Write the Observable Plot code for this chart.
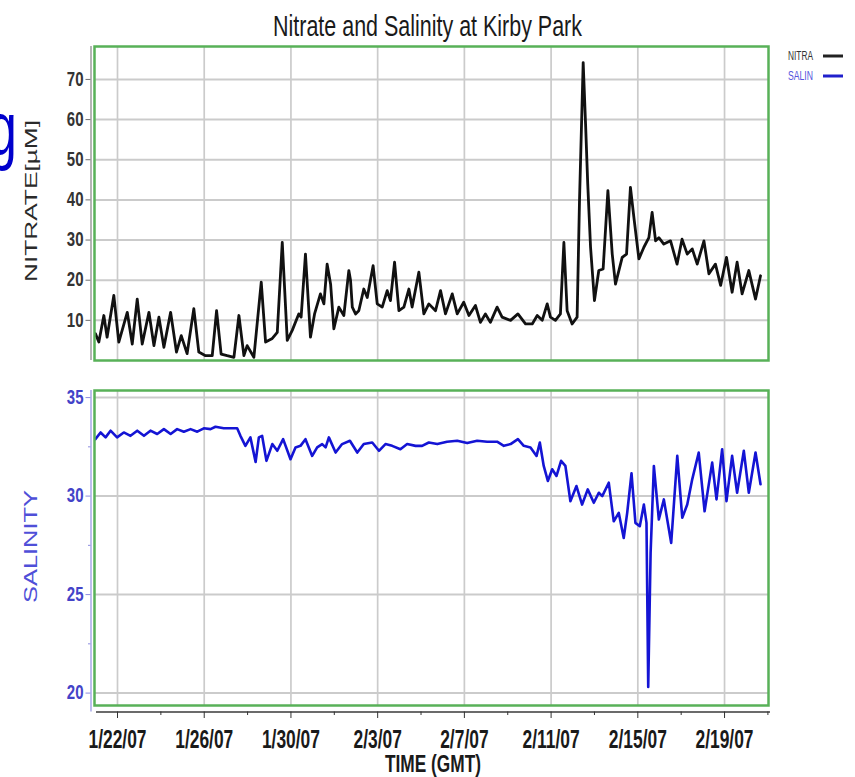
<!DOCTYPE html>
<html>
<head>
<meta charset="utf-8">
<script src="https://cdn.jsdelivr.net/npm/d3@7"></script>
<script src="https://cdn.jsdelivr.net/npm/@observablehq/plot@0.6"></script>
<style>
  html, body { margin: 0; padding: 0; background: #fff; }
  #wrap { position: relative; width: 855px; height: 777px; overflow: hidden; background: #fff;
          font-family: "Liberation Sans", Arial, sans-serif; }
  #wrap > svg { position: absolute; overflow: visible; }
</style>
</head>
<body>
<div id="wrap"></div>
<script>
// ---- DATA --------------------------------------------------------------
// Time is given as fractional day of January 2007 (GMT): 22.0 = 1/22/07 00:00, 32.5 = 2/1/07 12:00
const nitrateDay = [20.98,21.14,21.37,21.52,21.83,22.06,22.45,22.68,22.91,23.14,
  23.45,23.68,23.91,24.14,24.45,24.72,24.94,25.21,25.52,25.75,
  26.06,26.37,26.57,26.78,27.06,27.37,27.6,27.83,27.98,28.29,
  28.63,28.83,29.14,29.37,29.6,29.83,30.06,30.36,30.47,30.67,
  30.9,31.09,31.36,31.52,31.67,31.83,31.98,32.21,32.44,32.67,
  32.75,32.83,32.98,33.13,33.36,33.52,33.79,33.98,34.21,34.44,
  34.59,34.78,34.98,35.21,35.44,35.59,35.9,36.13,36.36,
  36.67,36.9,37.13,37.44,37.67,37.97,38.21,38.51,38.74,38.97,
  39.2,39.51,39.74,40.13,40.47,40.82,41.13,41.36,41.59,41.82,
  41.97,42.2,42.43,42.59,42.74,42.97,43.2,43.31,43.48,43.59,
  43.69,43.82,44.0,44.2,44.4,44.62,44.82,44.97,45.28,45.48,
  45.66,45.82,46.05,46.28,46.51,46.66,46.82,46.97,47.2,47.51,
  47.81,48.04,48.28,48.51,48.74,49.05,49.28,49.58,49.82,50.09,
  50.35,50.58,50.81,51.12,51.43,51.66];
const nitrateValue = [6.7,4.6,11.2,5.8,16.2,4.6,12,4.1,15.3,4.1,
  12,3.7,10.8,3.3,12,2.1,6.2,1.7,12.9,2.1,
  1.2,1.2,12.4,1.6,1.2,0.8,11.2,1.2,3.7,0.8,
  19.5,4.6,5.5,7.0,29.4,5.0,7.5,11.6,10.8,26.5,
  5.8,11.6,16.6,14.1,24,19,7.9,13.3,11.2,22.4,
  19.9,13.3,11.6,12.4,17.8,15.7,23.6,14.1,13.3,17.4,
  14.9,24.5,12.4,13.3,17.8,13.3,22,11.6,14.1,
  12.4,17.4,11.6,16.6,11.6,14.5,11.2,13.7,9.5,11.6,
  9.5,13.3,10.8,10,11.6,9.1,9.1,11.2,10,14.1,
  10.8,10,11.6,29.4,12.4,9.1,10.8,39.8,74.2,58.9,
  44,28.2,14.9,22.4,22.8,42.3,26.5,19,25.7,26.5,
  43.1,35.6,25.3,28.2,30.6,36.9,29.8,30.6,29,29.8,
  24,30.2,26.5,27.8,24,29.8,21.6,24,18.7,25.7,
  17,24.5,16.6,22.4,15.3,21.1];

const salinityDay = [20.98,21.22,21.45,21.68,21.98,22.29,22.6,22.91,23.22,23.52,
  23.83,24.14,24.45,24.75,25.06,25.37,25.68,25.98,26.29,26.52,
  26.9,27.52,27.67,27.9,28.13,28.37,28.52,28.67,28.87,29.14,
  29.37,29.64,29.98,30.21,30.44,30.67,30.98,31.21,31.44,31.6,
  31.75,32.06,32.36,32.72,33.06,33.36,33.75,34.06,34.36,34.67,
  35.05,35.36,35.75,36.05,36.36,
  36.75,37.2,37.67,38.13,38.59,39.05,39.51,39.82,40.13,40.47,
  40.74,41.05,41.33,41.48,41.66,41.85,42.05,42.25,42.46,42.66,
  42.89,43.17,43.43,43.69,43.97,44.2,44.36,44.66,44.89,45.12,
  45.35,45.51,45.71,45.89,46.09,46.28,46.4,46.48,46.59,46.74,
  46.97,47.2,47.54,47.82,48.05,48.28,48.51,48.81,49.08,49.43,
  49.63,49.89,50.09,50.35,50.58,50.89,51.12,51.43,51.66];
const salinityValue = [32.89,33.23,32.98,33.32,32.98,33.23,33.06,33.32,33.06,33.32,
  33.15,33.4,33.15,33.4,33.27,33.4,33.27,33.44,33.4,33.52,
  33.44,33.44,33.06,32.55,32.98,31.73,32.98,33.06,31.79,32.64,
  32.3,32.89,31.87,32.47,32.55,32.89,32.04,32.47,32.64,32.47,
  32.98,32.21,32.64,32.81,32.21,32.64,32.72,32.3,32.64,32.55,
  32.38,32.64,32.55,32.55,32.72,
  32.64,32.76,32.81,32.69,32.81,32.76,32.76,32.55,32.64,32.89,
  32.55,32.47,32.04,32.72,31.53,30.77,31.36,31.02,31.79,31.53,
  29.74,30.51,29.57,30.34,29.66,30.17,30.0,30.68,28.72,29.15,
  27.87,29.15,31.16,28.64,28.47,29.57,28.64,20.31,27.11,31.53,
  28.81,29.83,27.62,32.04,28.9,29.57,30.85,32.21,29.23,31.7,
  29.83,32.38,29.74,32.04,30.17,32.3,30.17,32.21,30.6];

const dateTicks = ["2007-01-22","2007-01-26","2007-01-30","2007-02-03","2007-02-07","2007-02-11","2007-02-15","2007-02-19"];
const dateTickLabels = ["1/22/07","1/26/07","1/30/07","2/3/07","2/7/07","2/11/07","2/15/07","2/19/07"];
const dateMinorTicks = ["2007-01-24","2007-01-28","2007-02-01","2007-02-05","2007-02-09","2007-02-13","2007-02-17","2007-02-21"];
const nitrateTicks = [10, 20, 30, 40, 50, 60, 70];
const salinityTicks = [20, 25, 30, 35];
const salinityMinorTicks = [22.5, 27.5, 32.5];
const seriesNames = ["NITRA", "SALIN"];

// ---- BUILD ---------------------------------------------------------------
const DAY = 86400000;
const T0 = Date.UTC(2007, 0, 0);
const toDate = d => new Date(T0 + d * DAY);
const nitrate = nitrateDay.map((d, i) => ({date: toDate(d), value: nitrateValue[i]}));
const salinity = salinityDay.map((d, i) => ({date: toDate(d), value: salinityValue[i]}));
const majors = dateTicks.map(s => new Date(s + "T00:00:00Z"));
const minors = dateMinorTicks.map(s => new Date(s + "T00:00:00Z"));
const labelOf = new Map(majors.map((d, i) => [+d, dateTickLabels[i]]));
const xDomain = [toDate(20.939), toDate(52.028)];

const GREEN = "#58b158";
const GRID = "#cbcbcb";
const FONT = "'Liberation Sans', Arial, sans-serif";

function color(svg, label, attrs) {
  svg.querySelectorAll(`g[aria-label="${label}"], g[aria-label="${label}"] *`).forEach(el => {
    for (const k in attrs) el.setAttribute(k, attrs[k]);
  });
}
// tall, narrow labels (the reference image is stretched vertically):
// measure at the nominal size, then draw larger and squeeze back to that width
function tallLabels(svg, label, attrs, size, sy) {
  svg.querySelectorAll(`g[aria-label="${label}"] text`).forEach(t => {
    for (const k in attrs) t.setAttribute(k, attrs[k]);
    t.setAttribute("font-size", size);
    const L = t.getComputedTextLength();
    if (!(L > 0)) return;
    t.setAttribute("font-size", size * sy);
    t.setAttribute("textLength", L);
    t.setAttribute("lengthAdjust", "spacingAndGlyphs");
  });
}

const topPlot = Plot.plot({
  width: 780, height: 365,
  marginLeft: 90.5, marginRight: 12, marginTop: 46, marginBottom: 5,
  style: {background: "transparent", overflow: "visible", fontFamily: FONT},
  x: {type: "utc", domain: xDomain, insetLeft: 3.5, axis: null},
  y: {domain: [0, 78.2]},
  marks: [
    Plot.ruleY(nitrateTicks, {stroke: GRID, strokeWidth: 2, insetLeft: 3.5}),
    Plot.ruleX(majors, {stroke: GRID, strokeWidth: 1.7}),
    Plot.line(nitrate, {x: "date", y: "value", stroke: "#111", strokeWidth: 2.8}),
    Plot.frame({stroke: GREEN, strokeWidth: 2.5, insetLeft: 3.5}),
    Plot.ruleX([xDomain[0]], {stroke: "#9c9c9c", strokeWidth: 1.5, dx: -3.5}),
    Plot.axisY({ticks: nitrateTicks, tickSize: 5, tickPadding: 2.5, label: null,
      stroke: "#707070", fill: "#333", fontSize: 15, fontWeight: "bold"})
  ]
});
topPlot.style.left = "0px"; topPlot.style.top = "0px";

const bottomPlot = Plot.plot({
  width: 780, height: 372,
  marginLeft: 90.5, marginRight: 12, marginTop: 10, marginBottom: 40.5,
  style: {background: "transparent", overflow: "visible", fontFamily: FONT},
  x: {type: "utc", domain: xDomain, insetLeft: 3.5},
  y: {domain: [19.37, 35.36], insetBottom: 6.5},
  marks: [
    Plot.ruleY(salinityTicks, {stroke: GRID, strokeWidth: 2, insetLeft: 3.5}),
    Plot.ruleX(majors, {stroke: GRID, strokeWidth: 1.7, insetBottom: 6.5}),
    Plot.line(salinity, {x: "date", y: "value", stroke: "#1414d4", strokeWidth: 2.6}),
    Plot.frame({stroke: GREEN, strokeWidth: 2.5, insetLeft: 3.5, insetBottom: 6.5}),
    Plot.ruleX([xDomain[0]], {stroke: "#a8a8e8", strokeWidth: 1.5, dx: -3.5}),
    Plot.axisY({ticks: salinityTicks, tickSize: 5, tickPadding: 2.5, label: null,
      stroke: "#8c8ce0", fill: "#4343c8", fontSize: 15, fontWeight: "bold"}),
    Plot.axisY({ticks: salinityMinorTicks, tickSize: 2.5, tickFormat: () => "", label: null, stroke: "#8c8ce0"}),
    Plot.ruleY([19.37], {stroke: "#3a3a3a", strokeWidth: 1.5, dy: 6.5, insetLeft: 5.5, insetRight: -2}),
    Plot.axisX({ticks: majors, tickSize: 6.5, tickPadding: 10.5, label: null,
      tickFormat: d => labelOf.get(+d), stroke: "#333", fill: "#1a1a1a", fontSize: 17.4, fontWeight: "bold"}),
    Plot.axisX({ticks: minors, tickSize: 3.5, tickFormat: () => "", label: null, stroke: "#333"})
  ]
});
bottomPlot.style.left = "0px"; bottomPlot.style.top = "380px";

const wrap = document.getElementById("wrap");
wrap.appendChild(topPlot);
wrap.appendChild(bottomPlot);

color(topPlot, "y-axis tick", {stroke: "#707070"});
color(bottomPlot, "y-axis tick", {stroke: "#8c8ce0"});
color(bottomPlot, "x-axis tick", {stroke: "#333"});
tallLabels(topPlot, "y-axis tick label", {fill: "#333", "font-weight": "bold", "font-family": FONT}, 15, 1.3);
tallLabels(bottomPlot, "y-axis tick label", {fill: "#4343c8", "font-weight": "bold", "font-family": FONT}, 15, 1.3);
tallLabels(bottomPlot, "x-axis tick label", {fill: "#1a1a1a", "font-weight": "bold", "font-family": FONT}, 17.4, 1.5);

// ---- TEXT OVERLAY ---------------------------------------------------------
const NS = "http://www.w3.org/2000/svg";
const overlay = document.createElementNS(NS, "svg");
overlay.setAttribute("width", 855); overlay.setAttribute("height", 777);
overlay.style.left = "0px"; overlay.style.top = "0px";
overlay.setAttribute("font-family", "'Liberation Sans', Arial, sans-serif");
overlay.innerHTML = `
  <g transform="translate(-12,155) scale(1,1.45)">
    <text font-size="52" fill="#0000cc">g</text>
  </g>
  <g transform="translate(427.5,36.3) scale(1,1.37)">
    <text text-anchor="middle" font-size="21.5" fill="#1a1a1a" textLength="309" lengthAdjust="spacingAndGlyphs">Nitrate and Salinity at Kirby Park</text>
  </g>
  <text transform="translate(37,201) rotate(-90)" text-anchor="middle" font-size="16.7" fill="#2a2a2a"
        textLength="162" lengthAdjust="spacingAndGlyphs">NITRATE[µM]</text>
  <text transform="translate(36.5,546.5) rotate(-90)" text-anchor="middle" font-size="18" fill="#4f4fd8"
        textLength="113" lengthAdjust="spacingAndGlyphs">SALINITY</text>
  <g transform="translate(433,771.5) scale(1,1.4)">
    <text text-anchor="middle" font-size="17.3" font-weight="bold" fill="#1a1a1a" textLength="96" lengthAdjust="spacingAndGlyphs">TIME (GMT)</text>
  </g>
  <g transform="translate(788,60) scale(1,1.25)">
    <text font-size="9.5" fill="#333" textLength="25" lengthAdjust="spacingAndGlyphs">${seriesNames[0]}</text>
  </g>
  <line x1="823" x2="843" y1="56" y2="56" stroke="#222" stroke-width="3"/>
  <g transform="translate(788,80) scale(1,1.25)">
    <text font-size="9.5" fill="#5555dd" textLength="25" lengthAdjust="spacingAndGlyphs">${seriesNames[1]}</text>
  </g>
  <line x1="823" x2="843" y1="76" y2="76" stroke="#2020cc" stroke-width="3"/>
`;
wrap.appendChild(overlay);
</script>
</body>
</html>
